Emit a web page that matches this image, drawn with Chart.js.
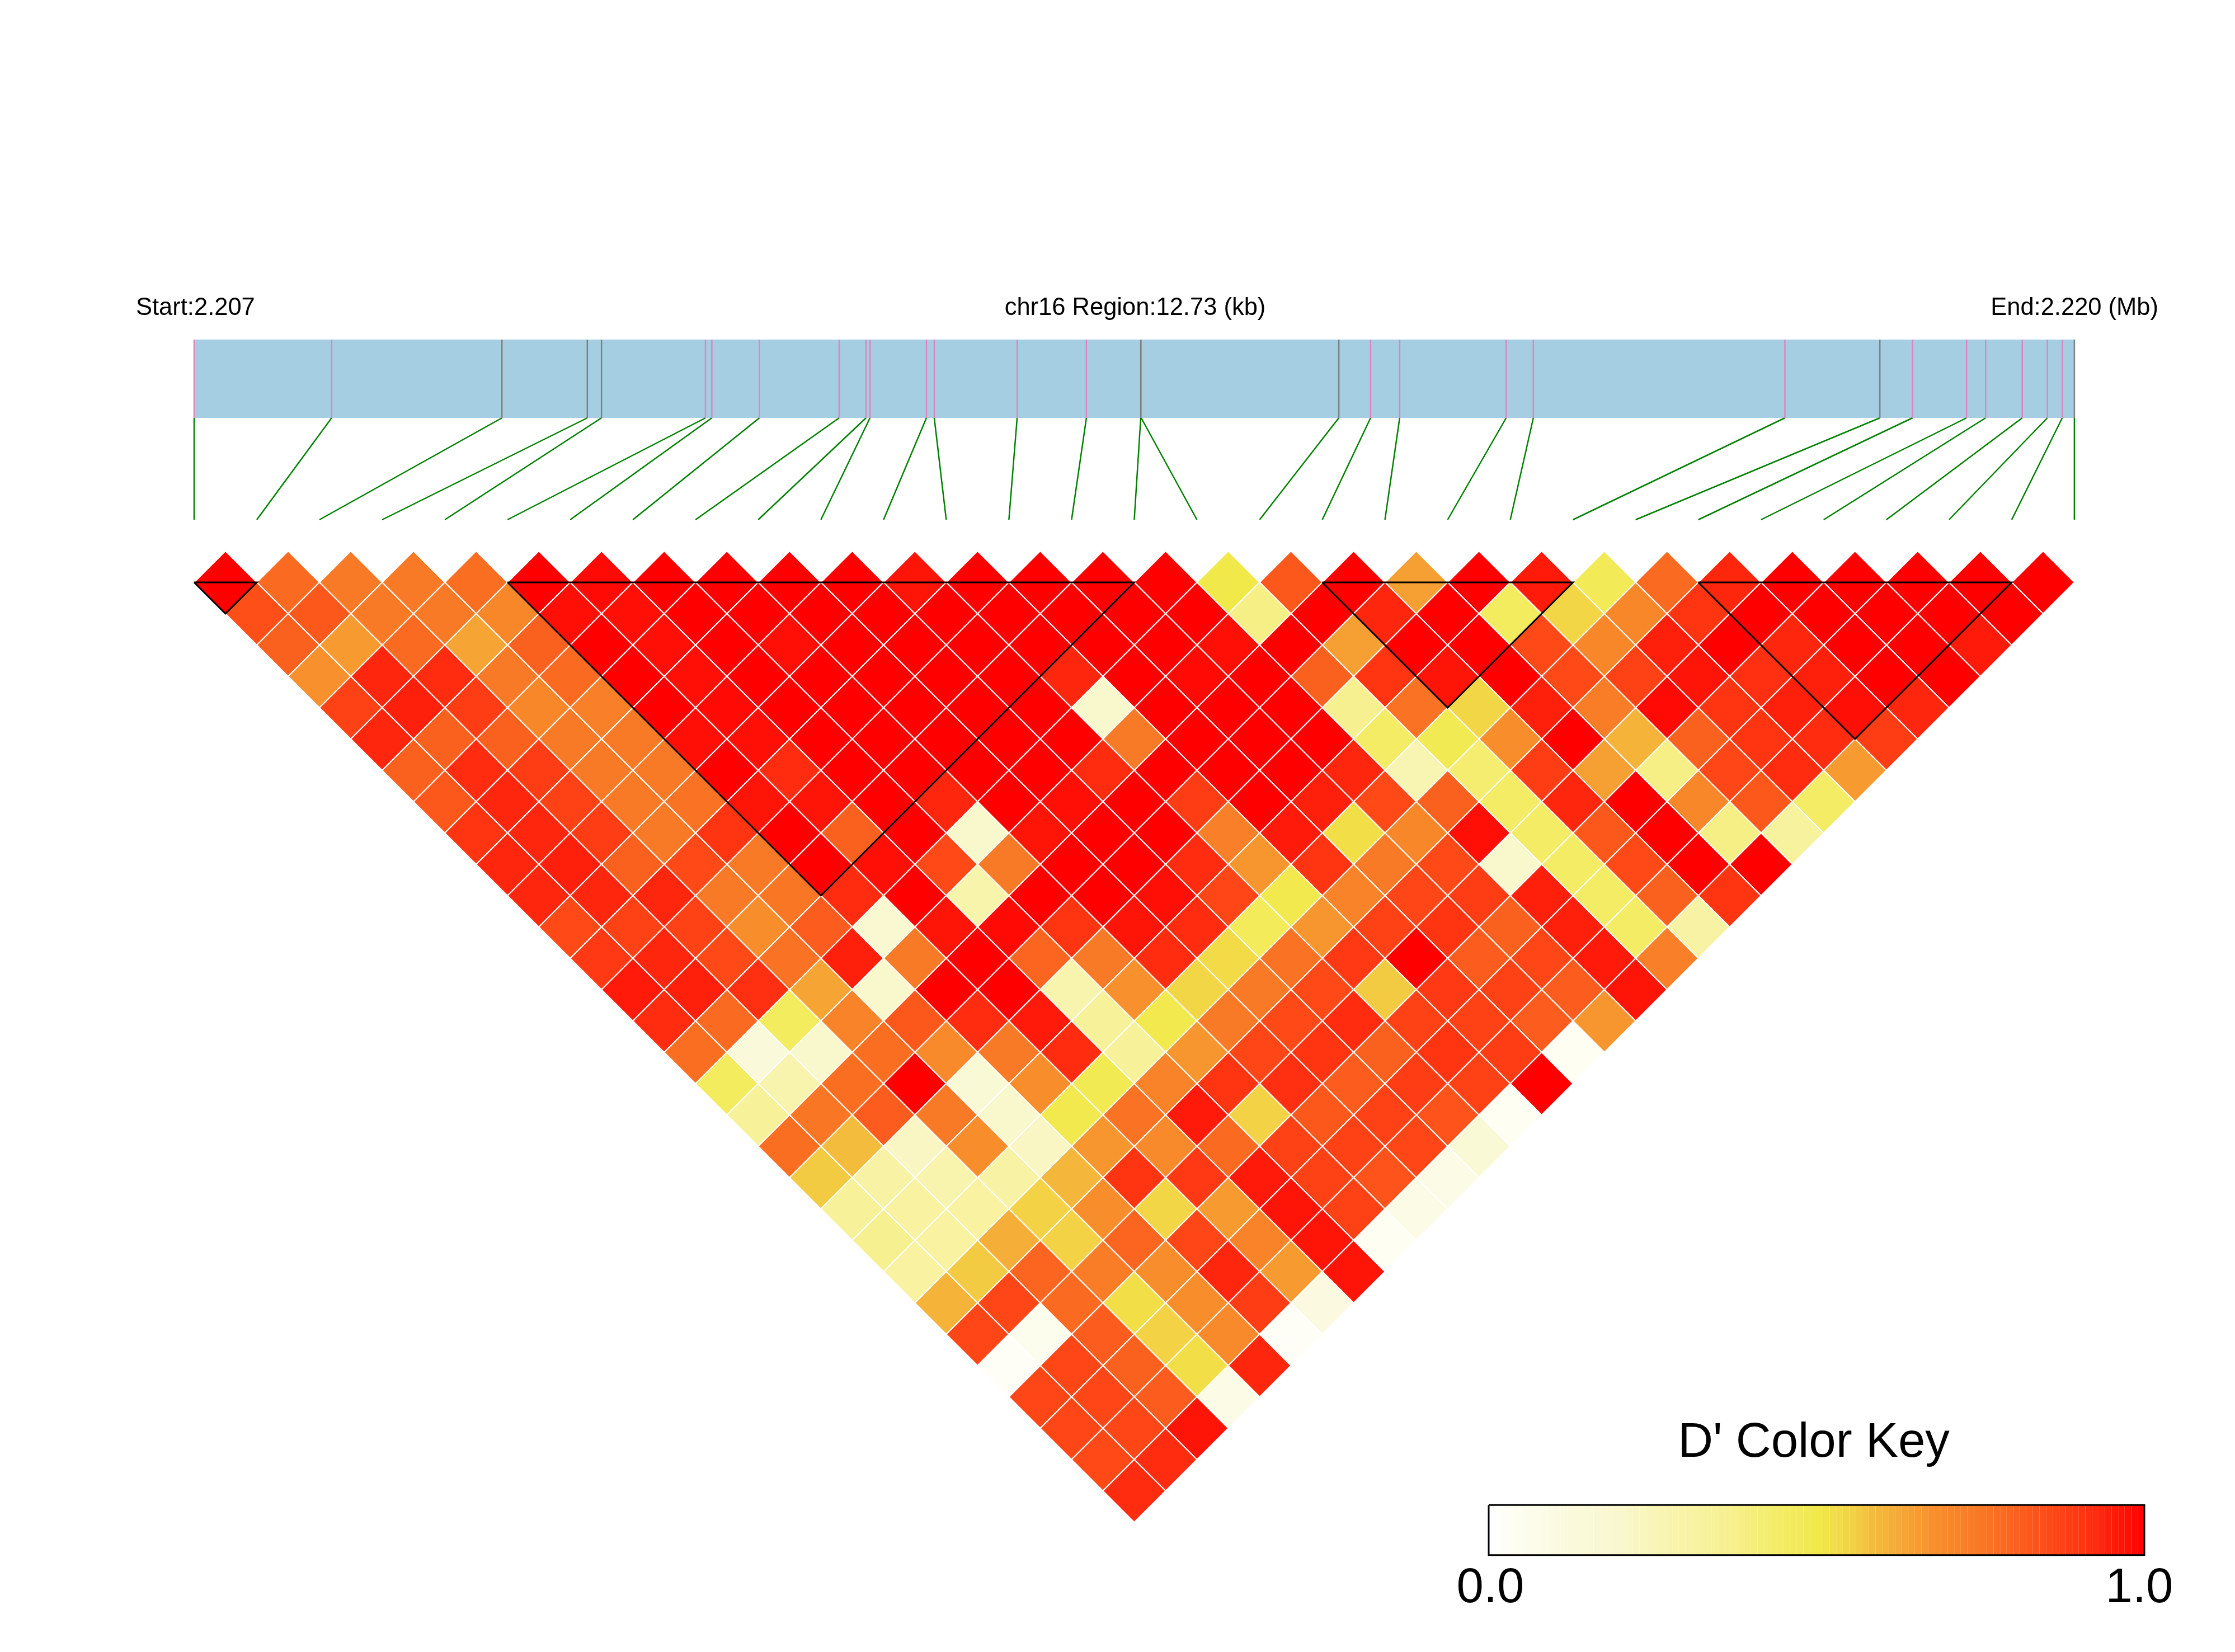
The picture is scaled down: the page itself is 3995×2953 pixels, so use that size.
<!doctype html>
<html lang="en-us">

<head>
  <meta charset="utf-8">
  <title>LD heatmap chr16</title>
  <script src="https://cdn.jsdelivr.net/npm/chart.js@4"></script>
  <style>
    body {
      margin: 0;
      background: #FFFFFF;
    }
    #chart {
      display: block;
    }
  </style>
</head>

<body>
  <canvas id="chart" width="3995" height="2953"></canvas>
  <script>
    // SNP positions in kb from the region start
    const regionKb = 12.73
    const snpKb = [0, 0.931, 2.084, 2.662, 2.758, 3.462, 3.505, 3.827, 4.367, 4.549, 4.576, 4.958, 5.011, 5.572, 6.041, 6.409,
      6.412, 7.750, 7.965, 8.162, 8.883, 9.067, 10.770, 11.413, 11.634, 12.000, 12.129, 12.377, 12.547, 12.648, 12.73]
    // SNPs whose tick is grey, the others are pink
    const greySnps = [2, 3, 4, 15, 17, 23, 30]
    // LD blocks as first and last SNP
    const blocks = [[0, 1], [5, 15], [18, 22], [24, 29]]

    // D' per pair, one list per SNP distance (1 to 30)
    const dPrime = [
      [1, .78, .74, .74, .77, 1, .98, 1, 1, 1, 1, .96, 1, 1, 1, 1, .5, .82, 1, .64, 1, .95, .47, .78, .93, 1, 1, 1, 1, 1],
      [.84, .82, .74, .74, .70, .97, .97, 1, 1, 1, 1, 1, 1, 1, 1, 1, .38, 1, .93, 1, .45, .54, .70, .90, 1, 1, 1, 1, 1],
      [.80, .65, .78, .63, .80, 1, .97, 1, .97, 1, 1, 1, 1, 1, 1, .97, 1, .64, 1, 1, .85, .70, .94, 1, .93, 1, 1, .95],
      [.67, .93, .92, .74, .78, 1, .97, 1, 1, 1, 1, 1, .93, 1, .98, 1, .80, .90, .96, 1, .85, .87, .96, .91, .94, 1, 1],
      [.87, .94, .88, .70, .72, 1, .98, 1, 1, 1, 1, 1, .2, 1, 1, 1, .36, .76, .54, .94, .73, .98, .90, .94, .97, .93],
      [.93, .80, .80, .74, .74, .97, .97, 1, 1, 1, 1, 1, .74, 1, 1, 1, .44, .48, .68, 1, .60, .80, .90, .92, .88],
      [.80, .92, .88, .74, .74, 1, .92, 1, 1, 1, 1, .92, 1, 1, 1, .93, .26, .42, .88, .64, .38, .86, .92, .65],
      [.82, .93, .87, .74, .76, .96, .96, 1, .93, 1, .97, 1, .88, 1, .94, .85, .80, .44, .93, 1, .70, .82, .44],
      [.90, .93, .88, .74, .90, 1, .80, 1, .2, .96, 1, 1, .72, .95, .52, .70, .97, .44, .82, 1, .38, .32],
      [.93, .94, .80, .85, .74, 1, .97, .85, .74, 1, 1, .92, .66, .90, .74, .85, .2, .44, .85, 1, 1],
      [.93, .93, .93, .74, .75, .92, 1, .28, 1, 1, .97, .86, .49, .71, .86, .88, .94, .44, .80, .90],
      [.85, .87, .87, .68, .81, .18, .96, .98, .90, .96, .92, .46, .66, .87, .90, .80, .94, .44, .30],
      [.89, .93, .85, .76, .94, .74, 1, .79, .74, .92, .53, .76, .89, 1, .81, .86, .95, .72],
      [.95, .94, .91, .63, .20, 1, 1, .27, .67, .54, .74, .85, .56, .89, .87, .81, .96],
      [.92, .78, .45, .71, .82, .92, .95, .33, .49, .74, .85, .92, .87, .87, .81, .66],
      [.77, .13, .20, .77, .69, .74, .92, .33, .66, .86, .90, .80, .90, .88, .03],
      [.45, .27, .77, 1, .15, .68, .48, .71, .90, .91, .81, .88, .87, 1],
      [.33, .75, .81, .74, .20, .49, .76, .95, .55, .82, .87, .83, .03],
      [.77, .58, .22, .68, .22, .66, .69, .78, .87, .87, .86, .15],
      [.56, .30, .27, .30, .59, .90, .89, .95, .87, .83, .08],
      [.33, .31, .31, .55, .68, .54, .65, .96, .87, .08],
      [.36, .31, .61, .55, .79, .86, .71, .96, .03],
      [.31, .56, .79, .73, .68, .93, .65, .96],
      [.60, .86, .78, .52, .68, .88, .10],
      [.86, .05, .81, .55, .69, .02],
      [.02, .86, .80, .52, .93],
      [.86, .86, .81, .08],
      [.86, .86, .96],
      [.85, .92],
      [.92]
    ]

    // colour ramp of the key
    const rampAt = [0, .03, .1, .2, .27, .36, .45, .5, .55, .58, .64, .67, .74, .78, .85, .92, .96, 1]
    const rampColors = ['#FFFFFF', '#FEFEF2', '#FBFAE0', '#F9F7CC', '#F8F4AE', '#F7F090', '#F3EC5E', '#F1E84A', '#F3D245',
      '#F4BC3C', '#F6A033', '#F8902D', '#F97A26', '#FA6A20', '#FF4A18', '#FF2C10', '#FF1408', '#FF0000']
    const keyLevels = []
    for (let k = 0; k <= 100; k++) keyLevels.push(k / 100)

    function hexToRgb(h) {
      return [parseInt(h.slice(1, 3), 16), parseInt(h.slice(3, 5), 16), parseInt(h.slice(5, 7), 16)]
    }

    function ramp(v) {
      let n = 1
      while (n < rampAt.length - 1 && v > rampAt[n]) n++
      let t = (v - rampAt[n - 1]) / (rampAt[n] - rampAt[n - 1])
      let a = hexToRgb(rampColors[n - 1])
      let b = hexToRgb(rampColors[n])
      return 'rgb(' + a.map((c, i) => Math.round(c + (b[i] - c) * t)).join(',') + ')'
    }

    // vertical places on the y axis, which counts heatmap rows
    const trackTop = -6.75
    const trackBottom = -4.25
    const linkBottom = -1
    const keyMiddle = 31.25
    const keyTop = 30.45
    const keyBottom = 32.05

    let cells = []
    let cellColors = []
    dPrime.forEach((list, r) => {
      list.forEach((v, i) => {
        cells.push({ x: i + (r + 1) / 2, y: r + 1 })
        cellColors.push(ramp(v))
      })
    })

    let datasets = []

    // physical track
    datasets.push({
      data: [{ x: 0, y: trackTop }, { x: 30, y: trackTop }],
      showLine: true, pointRadius: 0, borderWidth: 0,
      backgroundColor: '#A6CEE3', fill: { value: trackBottom }, order: 9
    })

    snpKb.forEach((kb, i) => {
      let x = kb / regionKb * 30
      let grey = greySnps.includes(i)
      datasets.push({
        data: [{ x: x, y: trackTop }, { x: x, y: trackBottom }],
        showLine: true, pointRadius: 0, borderWidth: 2.5,
        borderColor: grey ? '#808080' : '#DE85BE', order: grey ? 7 : 8
      })
      datasets.push({
        data: [{ x: x, y: trackBottom }, { x: i, y: linkBottom }],
        showLine: true, pointRadius: 0, borderWidth: 2.5,
        borderColor: '#008000', order: 8
      })
    })

    // heatmap
    datasets.push({
      data: cells,
      pointStyle: 'rectRot',
      pointRadius: ctx => (ctx.chart.scales.x.getPixelForValue(1) - ctx.chart.scales.x.getPixelForValue(0)) / 2,
      pointBackgroundColor: cellColors,
      pointBorderColor: '#FFFFFF',
      pointBorderWidth: 2,
      order: 5
    })

    // block outlines
    blocks.forEach(b => {
      datasets.push({
        data: [{ x: b[0], y: 1 }, { x: b[1], y: 1 }, { x: (b[0] + b[1]) / 2, y: 1 + b[1] - b[0] }, { x: b[0], y: 1 }],
        showLine: true, pointRadius: 0, borderWidth: 3,
        borderColor: '#000000', borderJoinStyle: 'miter', order: 2
      })
    })

    // colour key
    datasets.push({
      xAxisID: 'xKey',
      data: keyLevels.map(v => ({ x: v, y: keyMiddle })),
      showLine: true, pointRadius: 0, borderWidth: 90,
      borderColor: '#FFFFFF',
      segment: { borderColor: c => ramp(c.p0.parsed.x) },
      order: 4
    })
    datasets.push({
      xAxisID: 'xKey',
      data: [{ x: 0, y: keyTop }, { x: 1, y: keyTop }, { x: 1, y: keyBottom }, { x: 0, y: keyBottom }, { x: 0, y: keyTop }],
      showLine: true, pointRadius: 0, borderWidth: 3,
      borderColor: '#000000', order: 3
    })

    const labelsPlugin = {
      id: 'labels',
      afterDraw(chart) {
        let c = chart.ctx
        c.save()
        c.fillStyle = '#000000'
        c.textBaseline = 'alphabetic'
        c.font = '43.5px "Liberation Sans"'
        c.textAlign = 'left'
        c.fillText('Start:2.207', 243, 563)
        c.textAlign = 'center'
        c.fillText('chr16 Region:12.73 (kb)', 2029, 563)
        c.textAlign = 'right'
        c.fillText('End:2.220 (Mb)', 3858, 563)
        c.font = '87px "Liberation Sans"'
        c.textAlign = 'center'
        c.fillText("D' Color Key", 3242, 2604)
        c.fillText('0.0', 2664, 2864)
        c.fillText('1.0', 3824, 2864)
        c.restore()
      }
    }

    let chart = new Chart(document.getElementById('chart'), {
      type: 'scatter',
      data: { datasets: datasets },
      plugins: [labelsPlugin],
      options: {
        responsive: false,
        animation: false,
        events: [],
        layout: { padding: 0 },
        plugins: { legend: { display: false }, tooltip: { enabled: false } },
        scales: {
          x: { type: 'linear', display: false, min: -347 / 112.03, max: (3995 - 347) / 112.03 },
          xKey: { type: 'linear', display: false, min: -2661 / 1172, max: (3995 - 2661) / 1172 },
          y: { type: 'linear', display: false, reverse: true, min: 1 - 1041 / 56, max: 1 + (2953 - 1041) / 56 }
        }
      }
    })
  </script>
</body>

</html>
